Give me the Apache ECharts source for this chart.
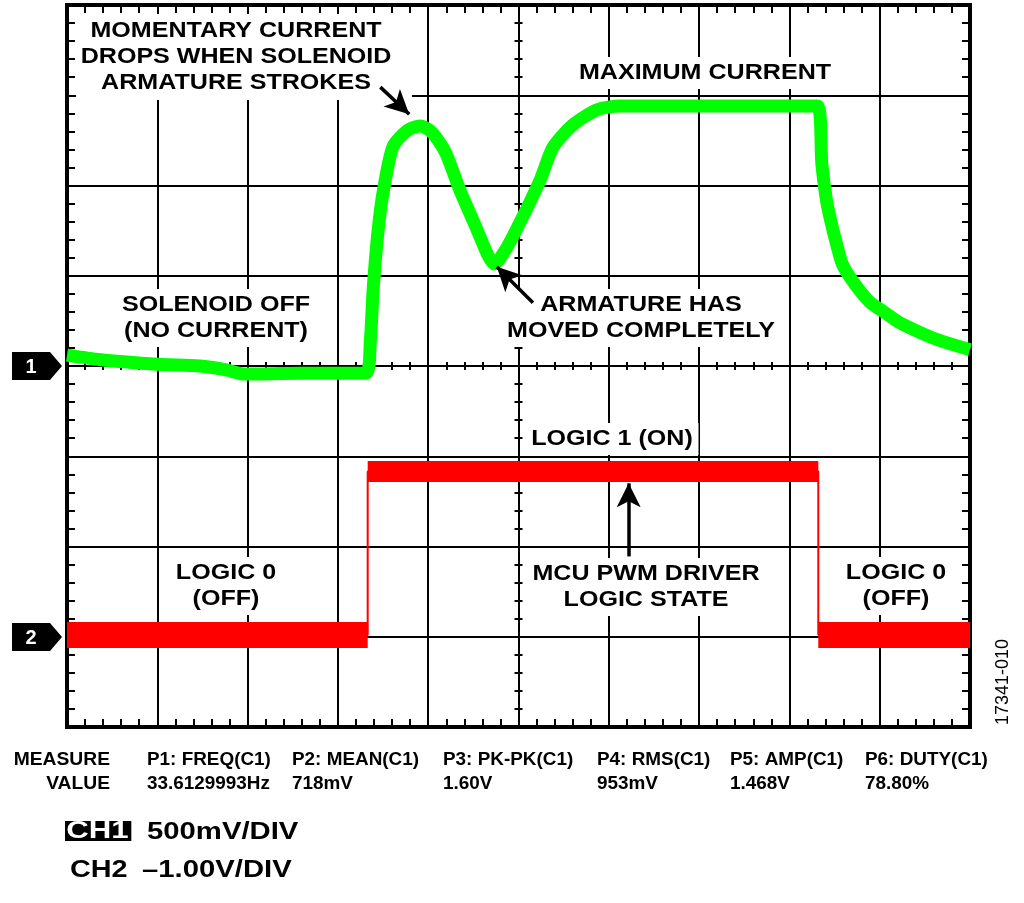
<!DOCTYPE html>
<html><head><meta charset="utf-8">
<script src="https://cdn.jsdelivr.net/npm/echarts@6/dist/echarts.min.js"></script>
<style>html,body{margin:0;padding:0;background:#fff}#c{width:1024px;height:903px}</style>
</head><body><div id="c"></div>
<script>
// Horizontal position in divisions (0..10), vertical in divisions (0..8 from bottom)
const greenX = [0, 0.37, 1.0, 1.47, 1.75, 1.97, 2.58, 3.31, 3.36, 3.39, 3.44, 3.50, 3.61, 3.77, 3.91, 4.04, 4.19, 4.35, 4.52, 4.66, 4.73, 4.80, 4.93, 5.24, 5.38, 5.60, 5.87, 6.12, 7.0, 8.31, 8.36, 8.41, 8.46, 8.52, 8.59, 8.73, 8.89, 9.06, 9.22, 9.45, 9.67, 10];
const greenY = [4.12, 4.07, 4.02, 4.00, 3.96, 3.91, 3.92, 3.92, 4.29, 4.84, 5.45, 5.92, 6.43, 6.61, 6.66, 6.59, 6.37, 5.95, 5.56, 5.23, 5.13, 5.20, 5.42, 6.06, 6.42, 6.67, 6.84, 6.88, 6.88, 6.88, 6.23, 5.84, 5.60, 5.36, 5.12, 4.90, 4.71, 4.59, 4.48, 4.37, 4.28, 4.18];
const redX = [0, 3.33, 3.33, 8.32, 8.32, 10];
const redY = [1.02, 1.02, 2.83, 2.83, 1.02, 1.02];
const measureNames = ['P1: FREQ(C1)', 'P2: MEAN(C1)', 'P3: PK-PK(C1)', 'P4: RMS(C1)', 'P5: AMP(C1)', 'P6: DUTY(C1)'];
const measureValues = ['33.6129993Hz', '718mV', '1.60V', '953mV', '1.468V', '78.80%'];
const measureColX = [147, 292, 443, 597, 730, 865];
// arrows: [fromX, fromY, toX, toY] in divisions
const arrows = [[3.47, 7.09, 3.79, 6.79], [5.16, 4.70, 4.76, 5.10], [6.22, 1.89, 6.22, 2.70]];

const FONT = '"Liberation Sans", Arial, sans-serif';
const greenData = greenX.map((x, i) => [x, greenY[i]]);
const redThin = redX.map((x, i) => [x, redY[i]]);
const redLow = [], redHigh = [];
for (let i = 0; i < redX.length - 1; i++) {
  if (redX[i] === redX[i + 1]) continue;
  const seg = [[redX[i], redY[i]], [redX[i + 1], redY[i + 1]]];
  const target = redY[i] > 2 ? redHigh : redLow;
  if (target.length) target.push([null, null]);
  target.push(...seg);
}

function xAx(pos, offset, inside, len, split) {
  return {type: 'value', min: 0, max: 10, interval: 1, position: pos, offset: offset,
    axisLine: {show: offset === 0, onZero: false, lineStyle: {color: '#000', width: 4}},
    axisTick: {show: false, inside: inside}, axisLabel: {show: false},
    minorTick: {show: true, splitNumber: 5, length: len, lineStyle: {color: '#000', width: 2}},
    splitLine: {show: !!split, lineStyle: {color: '#000', width: 2}}};
}
function yAx(pos, offset, inside, len, split) {
  return {type: 'value', min: 0, max: 8, interval: 1, position: pos, offset: offset,
    axisLine: {show: offset === 0, onZero: false, lineStyle: {color: '#000', width: 4}},
    axisTick: {show: false, inside: inside}, axisLabel: {show: false},
    minorTick: {show: true, splitNumber: 5, length: len, lineStyle: {color: '#000', width: 2}},
    splitLine: {show: !!split, lineStyle: {color: '#000', width: 2}}};
}

function txt(x, y, text, size, sx, opts, z) {
  return {type: 'text', x: x, y: y, z: z || 1, scaleX: sx,
    style: Object.assign({text: text, font: 'bold ' + size + 'px ' + FONT, fill: '#000',
      align: 'center', textAlign: 'center', verticalAlign: 'middle', textVerticalAlign: 'middle',
      lineHeight: 26}, opts || {})};
}
function annot(x, y, text, pad) {
  return txt(x, y, text, 22, 1.14, {backgroundColor: '#fff', padding: pad || [3, 5, 3, 5]});
}
function left(x, y, text, size, sx, extra) {
  return txt(x, y, text, size, sx, Object.assign({align: 'left', textAlign: 'left'}, extra || {}));
}
function marker(y, label) {
  return [{type: 'polygon', z: 5, shape: {points: [[12, y - 14], [50, y - 14], [62, y], [50, y + 14], [12, y + 14]]}, style: {fill: '#000'}},
    txt(31, y + 1, label, 20, 1, {fill: '#fff'}, 6)];
}

const graphics = [
  annot(244, 57, 'MOMENTARY CURRENT\nDROPS WHEN SOLENOID\nARMATURE STROKES', [4, 18, 4, 4]),
  annot(705, 73, 'MAXIMUM CURRENT'),
  annot(216, 318, 'SOLENOID OFF\n(NO CURRENT)'),
  annot(641, 318, 'ARMATURE HAS\nMOVED COMPLETELY'),
  annot(612, 439, 'LOGIC 1 (ON)'),
  annot(226, 586, 'LOGIC 0\n(OFF)'),
  annot(646, 587, 'MCU PWM DRIVER\nLOGIC STATE'),
  annot(896, 586, 'LOGIC 0\n(OFF)'),
  {type: 'text', x: 1003, y: 682, rotation: Math.PI / 2, style: {text: '17341-010', font: '18px ' + FONT, fill: '#000', align: 'center', textAlign: 'center', verticalAlign: 'middle', textVerticalAlign: 'middle'}},
  txt(110, 760, 'MEASURE', 18, 1.07, {align: 'right', textAlign: 'right'}),
  txt(110, 784, 'VALUE', 18, 1.07, {align: 'right', textAlign: 'right'}),
  left(65, 831, 'CH1', 24, 1.3, {fill: '#fff', backgroundColor: '#000', padding: [0, 2, 0, 1], lineHeight: 20}),
  left(147, 832, '500mV/DIV', 24, 1.22),
  left(70, 870, 'CH2', 24, 1.2),
  left(142, 870, '\u20131.00V/DIV', 24, 1.22)
].concat(marker(366, '1'), marker(637, '2'));
measureNames.forEach((n, i) => {
  graphics.push(left(measureColX[i], 760, n, 18, 1.05));
  graphics.push(left(measureColX[i], 784, measureValues[i], 18, 1.05));
});

const chart = echarts.init(document.getElementById('c'), null, {renderer: 'canvas'});
chart.setOption({
  animation: false,
  backgroundColor: '#fff',
  grid: {left: 67, top: 5, width: 903, height: 722, show: true, borderColor: '#000', borderWidth: 4, backgroundColor: 'transparent'},
  xAxis: [xAx('bottom', 0, true, 8, true), xAx('top', 0, true, 8, false), xAx('bottom', -361, true, 4, false), xAx('bottom', -361, false, 4, false)],
  yAxis: [yAx('left', 0, true, 8, true), yAx('right', 0, true, 8, false), yAx('left', -451.5, true, 4, false), yAx('left', -451.5, false, 4, false)],
  graphic: graphics,
  series: [
    {type: 'line', name: 'CH2 edges', data: redThin, showSymbol: false, lineStyle: {color: '#ff0000', width: 2}, z: 3, silent: true},
    {type: 'line', name: 'CH2 low', data: redLow, showSymbol: false, connectNulls: false, lineStyle: {color: '#ff0000', width: 26, cap: 'butt'}, z: 3, silent: true},
    {type: 'line', name: 'CH2 high', data: redHigh, showSymbol: false, connectNulls: false, lineStyle: {color: '#ff0000', width: 21, cap: 'butt'}, z: 3, silent: true},
    {type: 'line', name: 'CH1', data: greenData, showSymbol: false, smooth: 0.25, lineStyle: {color: '#00ff00', width: 13, join: 'round', cap: 'butt'}, z: 4, silent: true,
      markLine: {silent: true, symbol: ['none', 'arrow'], symbolSize: [18, 24], label: {show: false},
        lineStyle: {color: '#000', width: 3.5, type: 'solid'},
        data: arrows.map(a => [{coord: [a[0], a[1]]}, {coord: [a[2], a[3]]}])}}
  ]
});
</script></body></html>
